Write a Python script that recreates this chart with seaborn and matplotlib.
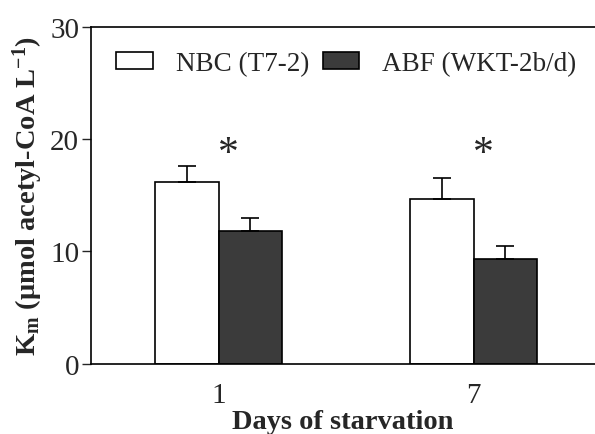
import pandas as pd
import matplotlib.pyplot as plt
import seaborn as sns

days = ['1', '7']
groups = ['NBC (T7-2)', 'ABF (WKT-2b/d)']
nbc_km = [16.2, 14.7]
abf_km = [11.8, 9.35]
nbc_err = [1.4, 1.8]
abf_err = [1.2, 1.15]
star_y = [18.7, 18.7]

df = pd.DataFrame({
    'day': days * 2,
    'group': [groups[0]] * 2 + [groups[1]] * 2,
    'km': nbc_km + abf_km,
    'err': nbc_err + abf_err,
})

sns.set_theme(style="white")
plt.rcParams['font.family'] = ['Liberation Serif', 'DejaVu Serif']
plt.rcParams['mathtext.default'] = 'regular'

fig = plt.figure(figsize=(5.95, 4.35), dpi=100)
ax = fig.add_axes([0.153, 0.162, 0.847, 0.774])

sns.barplot(x='day', y='km', hue='group', data=df, order=days, hue_order=groups,
            palette={groups[0]: 'white', groups[1]: '#3b3b3b'},
            edgecolor='black', linewidth=1.2, width=0.5, gap=0, errorbar=None, ax=ax)

# upper error bars only, placed at the bar centres
for cont, g in zip(ax.containers, groups):
    sub = df[df['group'] == g]
    xs = [p.get_x() + p.get_width() / 2 for p in cont.patches]
    ax.errorbar(xs, sub['km'], yerr=[[0] * len(sub), sub['err']], fmt='none',
                ecolor='black', elinewidth=1.2, capsize=6.5, capthick=1.2, zorder=1)

for i, y in enumerate(star_y):
    ax.text(i + 0.04, y, '*', ha='center', va='center', fontsize=30)

ax.set_xlim(-0.5, 1.476)
ax.set_ylim(0, 30)
ax.set_yticks([0, 10, 20, 30])
ax.tick_params(axis='y', direction='out', length=6.5, width=1, left=True, labelsize=21, pad=2)
ax.tick_params(axis='x', length=0, labelsize=21, pad=13)
ax.spines['right'].set_visible(False)
for s in ['left', 'bottom', 'top']:
    ax.spines[s].set_color('black')
    ax.spines[s].set_linewidth(1.2)

ax.set_xlabel('Days of starvation', fontsize=20.5, fontweight='bold', labelpad=1)
ax.set_ylabel('K$_m$ (μmol acetyl-CoA L$^{-1}$)', fontsize=20.5, fontweight='bold', labelpad=4)

ax.legend(title=None, ncol=2, frameon=False, loc='upper left', bbox_to_anchor=(0.012, 0.985),
          fontsize=19.5, handlelength=1.35, handleheight=0.62, columnspacing=0.5, handletextpad=0.85,
          borderaxespad=0.3)

plt.savefig('out.png', dpi=100)
